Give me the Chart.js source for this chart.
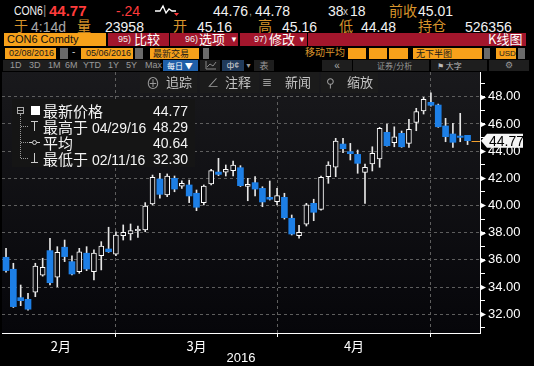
<!DOCTYPE html>
<html><head><meta charset="utf-8">
<script src="https://cdn.jsdelivr.net/npm/chart.js@4.4.1/dist/chart.umd.min.js"></script>
<style>
html,body{margin:0;padding:0;background:#000;width:534px;height:366px;overflow:hidden;font-family:"Liberation Sans",Arial,"Noto Sans CJK SC",sans-serif;}
.a{position:absolute;white-space:nowrap;line-height:1;}
.w{color:#f2f2f2;font-size:13px;}
.o{color:#d8952c;font-size:13px;font-family:"Noto Sans CJK SC",sans-serif;}
.ob{background:#f7a11a;color:#1a1a1a;font-size:9px;line-height:11px;height:11px;padding-left:3px;box-sizing:border-box;}
.gb{background:#6a6a6a;height:11px;}
.rd{background:#a3162c;height:13px;}
.tb{color:#9a9a9a;font-size:9px;}
.ov{color:#c4c4c4;font-size:13px;font-family:"Noto Sans CJK SC",sans-serif;}
.lg{color:#f4f4f4;font-size:14px;}
.cj{font-family:"Noto Sans CJK SC",sans-serif;font-size:15px;}
.sx{transform:scaleX(0.8);transform-origin:0 0;}
</style></head><body>
<!-- header row 1 -->
<div class="a w sx" style="left:14px;top:4px;font-size:13px;">CON6</div>
<div class="a" style="left:43px;top:3px;color:#888;font-size:13px;">|</div>
<div class="a" style="left:49px;top:3px;color:#ff3b3b;font-size:15px;font-weight:bold;">44.77</div>
<div class="a" style="left:116px;top:4px;color:#ff3b3b;font-size:14px;">-.24</div>
<svg class="a" style="left:154px;top:3px;" width="26" height="14"><polyline points="1,8 6,8 9,3 12,10 15,6 18,8 22,8" fill="none" stroke="#fff" stroke-width="1.3"/><polygon points="20,10 25,10 22.5,13" fill="#ff3b3b"/></svg>
<div class="a w" style="left:213px;top:4px;font-size:14px;">44.76</div>
<div class="a" style="left:249px;top:6px;color:#999;font-size:11px;">,</div>
<div class="a w" style="left:255px;top:4px;font-size:14px;">44.78</div>
<div class="a w" style="left:328px;top:4px;font-size:14px;">38</div>
<div class="a" style="left:343px;top:7px;color:#ccc;font-size:10px;">x</div>
<div class="a w" style="left:350px;top:4px;font-size:14px;">18</div>
<div class="a o" style="left:389px;top:3px;font-size:14px;">前收</div>
<div class="a w" style="left:418px;top:4px;font-size:14px;">45.01</div>
<!-- header row 2 -->
<div class="a o" style="left:14px;top:18px;font-size:14px;">于</div>
<div class="a" style="left:31px;top:20px;color:#a8a8a8;font-size:14px;">4:14d</div>
<div class="a o" style="left:77px;top:18px;font-size:14px;">量</div>
<div class="a w" style="left:105px;top:20px;font-size:14px;">23958</div>
<div class="a o" style="left:173px;top:18px;font-size:14px;">开</div>
<div class="a w" style="left:197px;top:20px;font-size:14px;">45.16</div>
<div class="a o" style="left:258px;top:18px;font-size:14px;">高</div>
<div class="a w" style="left:282px;top:20px;font-size:14px;">45.16</div>
<div class="a o" style="left:339px;top:18px;font-size:14px;">低</div>
<div class="a w" style="left:361px;top:20px;font-size:14px;">44.48</div>
<div class="a o" style="left:418px;top:18px;font-size:14px;">持仓</div>
<div class="a w" style="left:465px;top:20px;font-size:14px;">526356</div>
<!-- row 3 -->
<div class="a" style="left:4px;top:33px;width:102px;height:13px;background:#f7a11a;color:#111;font-size:11px;line-height:13px;padding-left:3px;box-sizing:border-box;">CON6 Comdty</div>
<div class="a rd" style="left:108px;top:33px;width:61px;"></div>
<div class="a rd" style="left:170px;top:33px;width:68px;"></div>
<div class="a rd" style="left:240px;top:33px;width:67px;"></div>
<div class="a rd" style="left:308px;top:33px;width:218px;"></div>
<div class="a" style="left:118px;top:35px;color:#eee;font-size:9px;">95)</div>
<div class="a" style="left:134px;top:32px;color:#fff;font-size:13px;font-family:'Noto Sans CJK SC';">比较</div>
<div class="a" style="left:185px;top:35px;color:#eee;font-size:9px;">96)</div>
<div class="a" style="left:199px;top:32px;color:#fff;font-size:13px;font-family:'Noto Sans CJK SC';">选项</div>
<div class="a" style="left:230px;top:36px;color:#fff;font-size:8px;">▼</div>
<div class="a" style="left:254px;top:35px;color:#eee;font-size:9px;">97)</div>
<div class="a" style="left:269px;top:32px;color:#fff;font-size:13px;font-family:'Noto Sans CJK SC';">修改</div>
<div class="a" style="left:298px;top:36px;color:#fff;font-size:8px;">▼</div>
<div class="a" style="left:488px;top:32px;color:#fff;font-size:13px;font-family:'Noto Sans CJK SC';">K线图</div>
<!-- row 4 -->
<div class="a ob" style="left:5px;top:48px;width:51px;text-align:right;padding-right:2px;">02/08/2016</div>
<div class="a gb" style="left:60px;top:48px;width:8px;"></div>
<div class="a" style="left:72px;top:47px;color:#ccc;font-size:10px;">-</div>
<div class="a ob" style="left:81px;top:48px;width:52px;text-align:right;padding-right:2px;">05/06/2016</div>
<div class="a gb" style="left:135px;top:48px;width:8px;"></div>
<div class="a ob" style="left:150px;top:48px;width:49px;font-family:'Noto Sans CJK SC';">最新交易</div>
<div class="a gb" style="left:203px;top:48px;width:6px;"></div>
<div class="a" style="left:305px;top:47px;color:#d8952c;font-size:10px;font-family:'Noto Sans CJK SC';">移动平均</div>
<div class="a ob" style="left:348px;top:48px;width:18px;"></div>
<div class="a ob" style="left:369px;top:48px;width:18px;"></div>
<div class="a ob" style="left:389px;top:48px;width:19px;"></div>
<div class="a ob" style="left:413px;top:48px;width:69px;font-family:'Noto Sans CJK SC';">无下半图</div>
<div class="a gb" style="left:484px;top:48px;width:6px;"></div>
<div class="a ob" style="left:496px;top:48px;width:20px;font-size:8px;">USD</div>
<div class="a gb" style="left:518px;top:48px;width:7px;"></div>
<!-- row 5 toolbar -->
<div class="a" style="left:3px;top:60px;width:157px;height:11px;background:#1e1e1e;"></div>
<div class="a tb" style="left:10px;top:61px;">1D</div>
<div class="a tb" style="left:29px;top:61px;">3D</div>
<div class="a tb" style="left:48px;top:61px;">1M</div>
<div class="a tb" style="left:65px;top:61px;">6M</div>
<div class="a tb" style="left:83px;top:61px;">YTD</div>
<div class="a tb" style="left:108px;top:61px;">1Y</div>
<div class="a tb" style="left:126px;top:61px;">5Y</div>
<div class="a tb" style="left:145px;top:61px;">Max</div>
<div class="a" style="left:163px;top:60px;width:35px;height:11px;background:#1f5fa8;color:#fff;font-size:8px;line-height:11px;padding-left:4px;box-sizing:border-box;font-family:'Noto Sans CJK SC';">每日 ▼</div>
<div class="a" style="left:200px;top:60px;width:20px;height:11px;background:#1e1e1e;"></div>
<svg class="a" style="left:205px;top:61px;" width="12" height="9"><polyline points="1,0 1,8 11,8" fill="none" stroke="#888" stroke-width="1"/><polyline points="2,6 5,3 8,5 11,1" fill="none" stroke="#888" stroke-width="1"/></svg>
<div class="a" style="left:222px;top:60px;width:22px;height:11px;background:#203a5a;color:#ccc;font-size:9px;line-height:11px;text-align:center;">ф¢</div>
<div class="a tb" style="left:245px;top:62px;font-size:7px;">▼</div>
<div class="a" style="left:254px;top:60px;width:20px;height:11px;background:#1e1e1e;color:#999;font-size:9px;line-height:11px;text-align:center;font-family:'Noto Sans CJK SC';">表</div>
<div class="a" style="left:322px;top:60px;width:30px;height:11px;background:#1e1e1e;color:#aaa;font-size:10px;line-height:11px;text-align:center;">«</div>
<div class="a" style="left:353px;top:60px;width:76px;height:11px;background:#1e1e1e;color:#999;font-size:8px;line-height:11px;padding-left:24px;box-sizing:border-box;font-family:'Noto Sans CJK SC';">证券/分析</div>
<div class="a" style="left:431px;top:60px;width:56px;height:11px;background:#1e1e1e;color:#bbb;font-size:8px;line-height:11px;padding-left:6px;box-sizing:border-box;font-family:'Noto Sans CJK SC';">⚑ 大字</div>
<div class="a" style="left:489px;top:60px;width:40px;height:11px;background:#1e1e1e;color:#999;font-size:9px;line-height:11px;text-align:center;">⚙</div>
<!-- chart -->
<div class="a" style="left:0;top:72px;width:534px;height:294px;"><canvas id="c" width="534" height="294"></canvas></div>
<!-- overlay toolbar -->
<div class="a" style="left:140px;top:72px;width:57px;height:21px;background:#1b1b1b;"></div>
<div class="a" style="left:200px;top:72px;width:59px;height:21px;background:#1b1b1b;"></div>
<div class="a" style="left:261px;top:72px;width:58px;height:21px;background:#1b1b1b;"></div>
<div class="a" style="left:321px;top:72px;width:57px;height:21px;background:#1b1b1b;"></div>
<div class="a ov" style="left:146px;top:75px;font-size:14px;color:#999;">⊕</div>
<div class="a ov" style="left:166px;top:75px;">追踪</div>
<div class="a ov" style="left:207px;top:76px;font-size:12px;color:#999;">∠</div>
<div class="a ov" style="left:225px;top:75px;">注释</div>
<div class="a ov" style="left:262px;top:75px;font-size:12px;color:#999;">≣</div>
<div class="a ov" style="left:285px;top:75px;">新闻</div>
<div class="a ov" style="left:326px;top:76px;font-size:12px;color:#999;">⚲</div>
<div class="a ov" style="left:347px;top:75px;">缩放</div>
<!-- legend overlay -->
<div class="a" style="left:12px;top:99px;width:183px;height:68px;background:#151515;"></div>
<div class="a" style="left:17px;top:107px;width:5px;height:5px;border:1px solid #aaa;"></div>
<div class="a" style="left:18px;top:110px;width:5px;height:1px;background:#aaa;"></div>
<div class="a" style="left:20px;top:114px;width:0;height:44px;border-left:1px dotted #999;"></div>
<div class="a" style="left:21px;top:126px;width:7px;height:0;border-top:1px dotted #999;"></div>
<div class="a" style="left:21px;top:142px;width:7px;height:0;border-top:1px dotted #999;"></div>
<div class="a" style="left:21px;top:158px;width:7px;height:0;border-top:1px dotted #999;"></div>
<div class="a" style="left:31px;top:106px;width:9px;height:9px;background:#fff;"></div>
<div class="a" style="left:31px;top:121px;width:7px;height:1px;background:#ccc;"></div>
<div class="a" style="left:34px;top:121px;width:1px;height:10px;background:#ccc;"></div>
<div class="a" style="left:29px;top:142px;width:11px;height:1px;background:#ccc;"></div>
<div class="a" style="left:32px;top:140px;width:3px;height:3px;border:1px solid #ccc;border-radius:3px;background:#151515;"></div>
<div class="a" style="left:34px;top:153px;width:1px;height:10px;background:#ccc;"></div>
<div class="a" style="left:31px;top:162px;width:7px;height:1px;background:#ccc;"></div>
<div class="a lg" style="left:43px;top:103px;"><span class="cj">最新价格</span></div>
<div class="a lg" style="left:43px;top:119px;"><span class="cj">最高于</span> 04/29/16</div>
<div class="a lg" style="left:43px;top:135px;"><span class="cj">平均</span></div>
<div class="a lg" style="left:43px;top:151px;"><span class="cj">最低于</span> 02/11/16</div>
<div class="a lg" style="right:346px;top:104px;">44.77</div>
<div class="a lg" style="right:346px;top:120px;">48.29</div>
<div class="a lg" style="right:346px;top:136px;">40.64</div>
<div class="a lg" style="right:346px;top:152px;">32.30</div>
<script>
// ---- data ----
const dates = ['2016-02-08','2016-02-09','2016-02-10','2016-02-11','2016-02-12','2016-02-15','2016-02-16','2016-02-17','2016-02-18','2016-02-19','2016-02-22','2016-02-23','2016-02-24','2016-02-25','2016-02-26','2016-02-29',
'2016-03-01','2016-03-02','2016-03-03','2016-03-04','2016-03-07','2016-03-08','2016-03-09','2016-03-10','2016-03-11','2016-03-14','2016-03-15','2016-03-16','2016-03-17','2016-03-18','2016-03-21','2016-03-22','2016-03-23','2016-03-24','2016-03-28','2016-03-29','2016-03-30','2016-03-31',
'2016-04-01','2016-04-04','2016-04-05','2016-04-06','2016-04-07','2016-04-08','2016-04-11','2016-04-12','2016-04-13','2016-04-14','2016-04-15','2016-04-18','2016-04-19','2016-04-20','2016-04-21','2016-04-22','2016-04-25','2016-04-26','2016-04-27','2016-04-28','2016-04-29',
'2016-05-02','2016-05-03','2016-05-04','2016-05-05','2016-05-06'];
const opens  = [36.19,35.31,33.22,33.10,33.62,34.87,36.68,34.72,36.93,35.87,35.13,36.49,35.13,36.31,36.80,36.41,
37.78,37.90,38.15,38.20,40.11,41.95,40.77,42.00,41.43,41.51,40.90,40.21,41.58,42.46,42.46,42.56,42.78,41.41,41.68,41.26,40.60,40.28,
40.60,39.06,37.78,38.62,40.16,39.72,42.12,42.81,44.52,43.96,43.76,42.44,43.05,43.42,45.38,44.62,45.31,44.57,46.12,46.95,47.59,
47.39,45.85,45.26,45.11,45.16];
const highs  = [36.85,35.75,34.15,33.54,35.75,36.12,37.59,36.97,37.46,36.29,36.85,36.97,36.73,37.34,38.40,38.07,
38.57,38.64,38.49,40.21,42.24,42.37,42.32,42.17,41.82,41.87,41.14,41.51,42.66,43.47,42.98,43.27,42.93,42.00,42.12,41.38,41.80,41.26,
40.90,39.30,38.54,40.16,40.46,42.17,43.22,44.94,44.94,44.57,44.08,43.05,44.32,45.75,45.99,45.79,45.48,46.34,47.15,47.96,48.29,
47.46,46.41,46.04,46.78,45.16];
const lows   = [35.10,32.50,32.63,32.30,33.29,34.80,34.15,34.03,35.87,34.89,35.01,35.21,34.52,35.26,36.55,36.30,
37.46,37.46,37.66,38.07,40.04,40.53,40.65,41.01,41.26,40.21,39.62,40.04,41.51,42.20,42.17,42.17,41.40,40.35,40.70,39.91,40.40,40.04,
39.00,37.83,37.59,38.49,38.88,39.65,41.63,42.12,43.88,43.35,42.37,40.16,42.54,42.81,44.37,44.32,44.28,44.28,45.50,46.73,47.30,
45.75,44.69,44.28,44.69,44.48];
const closes = [35.21,32.56,33.00,32.37,35.55,35.46,34.32,36.56,36.24,34.96,36.60,35.33,36.49,37.02,36.60,37.83,
38.03,38.15,38.25,39.96,42.07,40.82,42.17,41.21,41.63,40.70,39.87,41.43,42.56,42.29,42.66,42.98,41.46,41.56,41.21,40.26,40.46,40.72,
39.10,37.90,38.03,40.04,39.50,42.07,42.98,44.74,44.18,43.81,43.10,42.81,43.84,45.68,44.40,45.06,44.32,45.60,46.90,47.81,47.37,
45.79,45.06,44.65,45.01,44.77];
const monthLabels = ['2月','3月','4月'];
const yearLabel = '2016';
const yTicks = [31,32,33,34,35,36,37,38,39,40,41,42,43,44,45,46,47,48,49];

// ---- derived ----
const idx = dates.map((d,i)=>i);
const lastI = idx.length - 1;
const lastPrice = closes[lastI];
const boundaries = idx.filter(i => i < lastI && dates[i].slice(5,7) !== dates[i+1].slice(5,7));
const centers = boundaries.map((b,k) => ((k===0?0:boundaries[k-1]) + b)/2);
const isB = v => boundaries.includes(v);
const UP='#ffffff', DOWN='#1d7fe6';

const wickData = idx.map(i => ({x:i, y:[lows[i], highs[i]]}));
const upData = idx.filter(i => closes[i] >= opens[i]).map(i => ({x:i, y:[opens[i], closes[i]]}));
const dnData = idx.filter(i => closes[i] < opens[i]).map(i => ({x:i, y:[closes[i], opens[i]]}));

const bgPlugin = {
  id:'bg',
  beforeDraw(chart){
    const {ctx, chartArea:a} = chart;
    const g = ctx.createLinearGradient(0,a.top,0,a.bottom);
    g.addColorStop(0,'#19191c'); g.addColorStop(1,'#06060a');
    ctx.save(); ctx.fillStyle=g; ctx.fillRect(a.left,a.top,a.right-a.left,a.bottom-a.top); ctx.restore();
  },
  afterDraw(chart){
    const {ctx, chartArea:a} = chart;
    const ys = chart.scales.y, xs = chart.scales.x;
    ctx.save();
    ctx.fillStyle='#fff'; ctx.strokeStyle='#fff'; ctx.lineWidth=1;
    yTicks.forEach(v=>{
      const py = Math.round(ys.getPixelForValue(v))+0.5;
      if (v%2===0){
        ctx.beginPath(); ctx.moveTo(a.right, py-3); ctx.lineTo(a.right+6, py); ctx.lineTo(a.right, py+3); ctx.closePath(); ctx.fill();
      }
    });
    // last price line + tag
    const py = ys.getPixelForValue(lastPrice);
    const px = xs.getPixelForValue(lastI) + 4;
    ctx.strokeStyle='#f0a030'; ctx.beginPath(); ctx.moveTo(px, Math.round(py)+0.5); ctx.lineTo(a.right, Math.round(py)+0.5); ctx.stroke();
    ctx.fillStyle='#f4f4f4';
    ctx.beginPath();
    ctx.moveTo(a.right+1, py); ctx.lineTo(a.right+7, py-7); ctx.lineTo(a.right+43, py-7);
    ctx.lineTo(a.right+43, py+7); ctx.lineTo(a.right+7, py+7); ctx.closePath(); ctx.fill();
    ctx.fillStyle='#000'; ctx.font='14px "Liberation Sans", Arial'; ctx.textBaseline='middle'; ctx.textAlign='left';
    ctx.fillText(lastPrice.toFixed(2), a.right+9, py+1);
    ctx.restore();
  }
};

new Chart(document.getElementById('c'), {
  type:'bar',
  data:{datasets:[
    {label:'wick', data:wickData, backgroundColor:'#e6e6e6', barThickness:1, grouped:false, order:3, borderWidth:0},
    {label:'up', data:upData, backgroundColor:'#0c0c10', borderColor:UP, borderWidth:1, borderSkipped:false, barThickness:5, grouped:false, order:1},
    {label:'down', data:dnData, backgroundColor:DOWN, borderWidth:0, barThickness:6, grouped:false, order:2}
  ]},
  options:{
    responsive:false, animation:false, devicePixelRatio:1,
    layout:{padding:{left:2,right:0,top:0,bottom:0}},
    plugins:{legend:{display:false}, tooltip:{enabled:false}},
    scales:{
      x:{type:'linear', min:-0.55, max:64.7, offset:false,
        afterBuildTicks(s){ s.ticks = boundaries.concat(centers).sort((a,b)=>a-b).map(v=>({value:v})); },
        afterFit(s){ s.height = 33; s.paddingLeft=0; s.paddingRight=0; },
        ticks:{autoSkip:false, maxRotation:0, color:'#ffffff', padding:1,
          font:{size:13, family:'"Noto Sans CJK SC","Liberation Sans",sans-serif'},
          callback(v){ const k = centers.indexOf(v); return k>=0 ? monthLabels[k] : ''; }},
        grid:{offset:false, color:c=> (c.tick && isB(c.tick.value)) ? '#5e5e5e' : 'rgba(0,0,0,0)',
          tickColor:c=> (c.tick && isB(c.tick.value)) ? '#ffffff' : 'rgba(0,0,0,0)', tickLength:4, lineWidth:1},
        border:{display:true, color:'#ffffff', width:1, dash:[3,3]},
        title:{display:true, text:yearLabel, color:'#ffffff', font:{size:13, family:'"Liberation Sans",Arial'}, padding:{top:0,bottom:0}}
      },
      y:{type:'linear', position:'right', min:30.62, max:49.82,
        afterBuildTicks(s){ s.ticks = yTicks.map(v=>({value:v})); },
        afterFit(s){ s.width = 54; s.paddingTop=0; s.paddingBottom=0; },
        ticks:{autoSkip:false, color:'#ffffff', padding:3, font:{size:13, family:'"Liberation Sans",Arial'},
          callback(v){ return v%2===0 ? v.toFixed(2) : ''; }},
        grid:{color:c=> (c.tick && c.tick.value%2===0) ? '#5e5e5e' : 'rgba(0,0,0,0)',
          tickColor:'#ffffff', tickLength:5, lineWidth:1},
        border:{display:true, color:'#ffffff', width:1, dash:[3,3]}
      }
    }
  },
  plugins:[bgPlugin]
});
</script>
</body></html>
